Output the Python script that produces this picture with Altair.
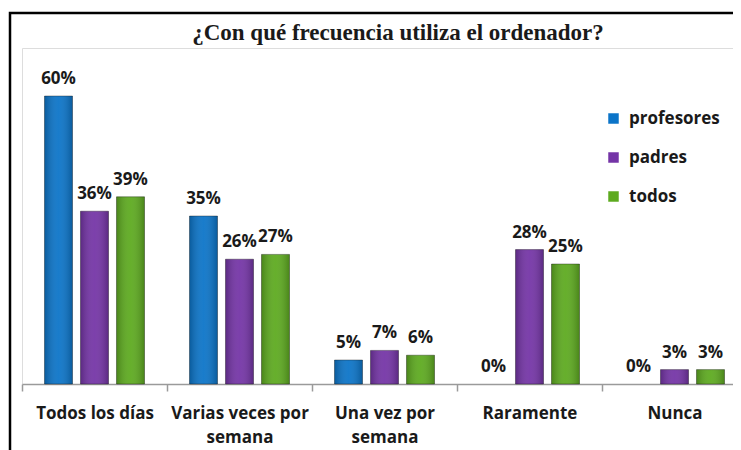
import altair as alt
import pandas as pd

categorias = ["Todos los días", "Varias veces por semana", "Una vez por semana", "Raramente", "Nunca"]
series = ["profesores", "padres", "todos"]
profesores = [60, 35, 5, 0, 0]
padres = [36, 26, 7, 28, 3]
todos = [39, 27, 6, 25, 3]
colores = ["#0B74C8", "#7434A6", "#5DAA1F"]
titulo = "¿Con qué frecuencia utiliza el ordenador?"

rows = []
for s, vals in zip(series, [profesores, padres, todos]):
    for c, v in zip(categorias, vals):
        rows.append({"categoria": c, "serie": s, "valor": v, "etiqueta": f"{v}%"})
df = pd.DataFrame(rows)

FONT = "Open Sans"

label_expr = (
    "datum.value == 'Varias veces por semana' ? ['Varias veces por', 'semana'] : "
    "datum.value == 'Una vez por semana' ? ['Una vez por', 'semana'] : datum.label"
)

x = alt.X(
    "categoria:N",
    sort=categorias,
    title=None,
    scale=alt.Scale(range=[0, 725], paddingInner=0, paddingOuter=0),
    axis=alt.Axis(
        labelExpr=label_expr,
        labelAngle=0,
        labelFont=FONT,
        labelFontWeight="bold",
        labelFontSize=17,
        labelColor="#1a1a1a",
        labelLineHeight=24,
        labelPadding=14,
        labelBaseline="top",
        domainColor="#9a9a9a",
        domainWidth=1.5,
        tickColor="#9a9a9a",
        tickWidth=1.5,
        tickSize=7,
        tickBand="extent",
        labelLimit=300,
    ),
)
xoff = alt.XOffset("serie:N", sort=series, scale=alt.Scale(paddingInner=0.222, paddingOuter=0.625))
y = alt.Y("valor:Q", scale=alt.Scale(domain=[0, 70], nice=False), axis=None)

base = alt.Chart(df).encode(x=x, xOffset=xoff, y=y)

bars = base.mark_bar(strokeWidth=1, strokeOpacity=0.35, stroke="#000000").encode(
    color=alt.Color(
        "serie:N",
        sort=series,
        scale=alt.Scale(domain=series, range=colores),
        legend=alt.Legend(
            title=None,
            orient="none",
            legendX=583,
            legendY=62,
            symbolType="square",
            symbolSize=110,
            symbolStrokeWidth=0,
            labelFont=FONT,
            labelFontWeight="bold",
            labelFontSize=17,
            labelColor="#1a1a1a",
            rowPadding=21,
            labelOffset=7,
        ),
    )
).transform_filter("datum.valor > 0")

shade = base.mark_bar(
    fill=alt.Gradient(
        gradient="linear",
        x1=0, x2=1, y1=0, y2=0,
        stops=[
            alt.GradientStop(color="rgba(0,0,0,0.22)", offset=0),
            alt.GradientStop(color="rgba(255,255,255,0.06)", offset=0.5),
            alt.GradientStop(color="rgba(0,0,0,0.22)", offset=1),
        ],
    )
).transform_filter("datum.valor > 0")

texts = base.mark_text(
    baseline="alphabetic",
    dy=-12,
    font=FONT,
    fontWeight="bold",
    fontSize=17,
    color="#1a1a1a",
).encode(text="etiqueta:N")

title_mark = alt.Chart(pd.DataFrame({"t": [titulo]})).mark_text(
    font="Liberation Serif",
    fontSize=23,
    fontWeight="bold",
    color="#1a1a1a",
    align="center",
    baseline="middle",
).encode(text="t:N", x=alt.value(376), y=alt.value(-15))

frame = alt.Chart(pd.DataFrame({"t": [titulo]})).mark_rect(fill=None, stroke="#000000", strokeWidth=2.5).encode(
    x=alt.value(-12), x2=alt.value(760), y=alt.value(-35), y2=alt.value(460)
)

chart = (
    alt.layer(frame, title_mark, bars, shade, texts)
    .properties(
        width=711,
        height=336,
        autosize=alt.AutoSizeParams(type="none"),
        padding={"left": 14, "top": 40, "right": 0, "bottom": 66},
    )
    .configure_view(stroke=None)
    .configure(background="white")
)

chart.save("out.html", embed_options={"renderer": "svg", "actions": False})
